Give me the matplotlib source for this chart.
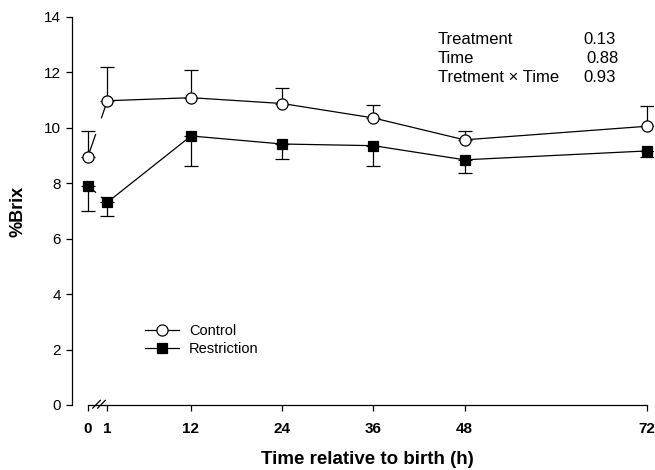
import matplotlib
matplotlib.use("Agg")
import matplotlib.pyplot as plt
import numpy as np

plt.rcParams['font.family'] = ['Liberation Sans', 'DejaVu Sans']

# data
hours = [0, 1, 12, 24, 36, 48, 72]
hour_labels = ['0', '1', '12', '24', '36', '48', '72']
control = [8.93, 10.97, 11.08, 10.87, 10.35, 9.56, 10.05]
control_se = [0.96, 1.20, 1.01, 0.57, 0.45, 0.33, 0.72]
restriction = [7.91, 7.31, 9.70, 9.41, 9.35, 8.84, 9.16]
restriction_se = [0.92, 0.48, 1.08, 0.53, 0.75, 0.49, 0.23]

stats_names = ['Treatment', 'Time', 'Tretment \u00d7 Time']
stats_p = ['0.13', '0.88', '0.93']

# hour 0 sits before an axis break
x0_pos = -1.6
xpos = np.array([x0_pos] + hours[1:], dtype=float)

fig = plt.figure(figsize=(6.55, 4.70), dpi=100)
ax = fig.add_axes([72 / 655, 1 - 405 / 470, 581 / 655, (405 - 16.7) / 470])


def draw_series(y, err, marker, face, ms, up, label):
    y = np.array(y)
    err = np.array(err)
    z = np.zeros_like(err)
    yerr = [z, err] if up else [err, z]
    ax.errorbar(xpos, y, yerr=yerr, fmt='none', ecolor='black', elinewidth=0.9,
                capsize=5, capthick=0.9, zorder=2)
    # main line from hour 1 on
    ax.plot(xpos[1:], y[1:], color='black', lw=0.9, zorder=2)
    # broken segment between hour 0 and hour 1
    for a, b in [(0.0, 0.4), (0.7, 1.0)]:
        xs = [xpos[0] + a * (xpos[1] - xpos[0]), xpos[0] + b * (xpos[1] - xpos[0])]
        ys = [y[0] + a * (y[1] - y[0]), y[0] + b * (y[1] - y[0])]
        ax.plot(xs, ys, color='black', lw=0.9, zorder=2)
    ax.plot(xpos, y, ls='none', marker=marker, ms=ms, mfc=face, mec='black',
            mew=0.9, zorder=3)
    ax.plot([], [], color='black', lw=0.9, marker=marker, ms=ms, mfc=face,
            mec='black', mew=0.9, label=label)


draw_series(control, control_se, 'o', 'white', 8, True, 'Control')
draw_series(restriction, restriction_se, 's', 'black', 7.5, False, 'Restriction')

ax.set_xlim(-3.66, 72.8)
ax.set_ylim(0, 14)
ax.spines['top'].set_visible(False)
ax.spines['right'].set_visible(False)
ax.spines['bottom'].set_bounds(x0_pos, 72)
ax.spines['left'].set_bounds(0, 14)
ax.set_xticks(xpos)
ax.set_xticklabels(hour_labels, fontweight='bold', fontsize=11)
ax.set_yticks(range(0, 15, 2))
ax.tick_params(axis='y', labelsize=11, length=4, width=0.9, pad=4)
ax.tick_params(axis='x', length=4, width=0.9, pad=8)
for s in ax.spines.values():
    s.set_linewidth(0.9)

# axis break marks
trans = ax.get_xaxis_transform()
bx = [xpos[0] + 0.45 * (xpos[1] - xpos[0]), xpos[0] + 0.7 * (xpos[1] - xpos[0])]
for cx in bx:
    ax.plot([cx - 0.5, cx + 0.5], [-0.008, 0.012], color='black', lw=0.9,
            transform=trans, clip_on=False, zorder=5)

ax.legend(loc='upper left', bbox_to_anchor=(145 / 655, 1 - 324 / 470),
          bbox_transform=fig.transFigure, frameon=False, fontsize=10.5,
          handlelength=2.3, handletextpad=0.7, labelspacing=0.25,
          borderpad=0, borderaxespad=0)

for i, (name, p) in enumerate(zip(stats_names, stats_p)):
    yy = 1 - (39.7 + i * 18.8) / 470
    fig.text(438 / 655, yy, name, fontsize=12, va='center', ha='left')
    fig.text(583 / 655 + (0.005 if name == 'Time' else 0), yy, p, fontsize=12,
             va='center', ha='left')

fig.text(18.3 / 655, 1 - 211 / 470, '%Brix', rotation=90, fontsize=13,
         fontweight='bold', ha='center', va='center')
fig.text(367 / 655, 1 - 459 / 470, 'Time relative to birth (h)', fontsize=13.5,
         fontweight='bold', ha='center', va='center')

fig.savefig('out.png', dpi=100)
